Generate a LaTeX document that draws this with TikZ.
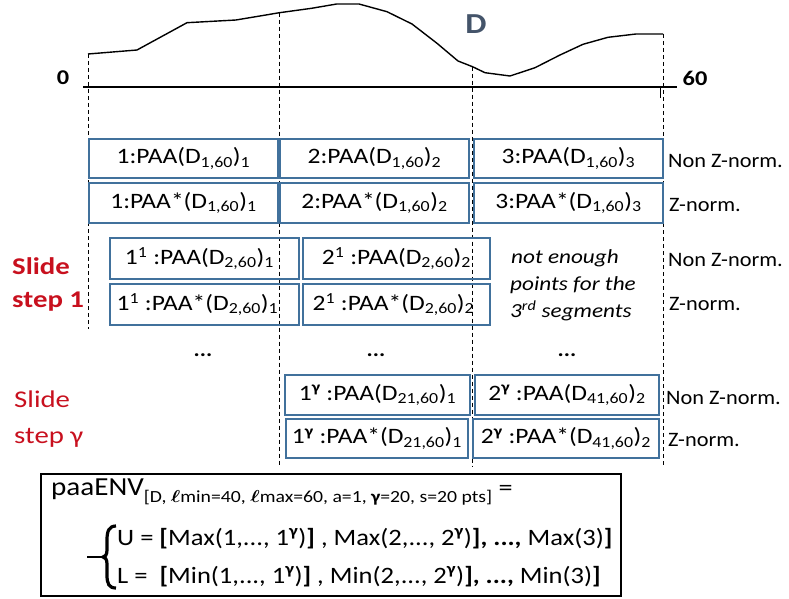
\documentclass[tikz,border=0pt]{standalone}
\usepackage{fontspec}
\setmainfont{Carlito}
\usepackage{amsmath}
\usepackage{graphicx}
\definecolor{boxblue}{RGB}{65,113,156}
\definecolor{slidered}{RGB}{200,16,30}
\definecolor{dslate}{RGB}{68,84,106}
\newcommand{\hs}[1]{\scalebox{1.16}[1]{#1}}
\newcommand{\hsl}[1]{\scalebox{1.09}[1]{#1}}
\newcommand{\hsw}[1]{\scalebox{1.2}[1]{#1}}
\newcommand{\hse}[1]{\scalebox{1.13}[1]{#1}}
\newcommand{\sg}{\textsuperscript{\textbf{γ}}}
\tikzset{
  paabox/.style={draw=boxblue, line width=1.6pt, inner sep=0pt, font=\fontsize{22}{26}\selectfont},
  normlab/.style={anchor=west, inner sep=0pt, font=\fontsize{20.5}{24}\selectfont},
  slidelab/.style={anchor=west, inner sep=0pt, text=slidered, font=\bfseries\fontsize{24}{27}\selectfont},
  slidelabg/.style={anchor=west, inner sep=0pt, text=slidered, font=\fontsize{24}{27}\selectfont},
  notelab/.style={anchor=west, inner sep=0pt, font=\itshape\fontsize{20}{24}\selectfont},
  segline/.style={line width=0.8pt, dash pattern=on 4pt off 3pt},
  dotlab/.style={inner sep=0pt, font=\bfseries\fontsize{20}{24}\selectfont},
  envline/.style={anchor=west, inner sep=0pt, font=\fontsize{23.5}{27}\selectfont}
}
\begin{document}
\begin{tikzpicture}[x=1pt,y=-1pt]
\useasboundingbox (0,0) rectangle (789,599);

% series D
\draw[line width=1.4pt, line join=round]
  (88,54) coordinate (c0) -- (137,50) -- (187,22.7) -- (236,20) -- (279.5,12.7) coordinate (c1)
  -- (311.6,8.3) -- (336.7,4) -- (359,4) -- (387,11.7) -- (412,24) -- (437,43.3) -- (458,61)
  -- (472.5,66.7) coordinate (c2) -- (485,72.7) -- (510,76) -- (535,67.7) -- (560,55) -- (583,44.3)
  -- (608,37.3) -- (636,34) -- (663,34) coordinate (c3);

% axis
\coordinate (ax0) at (83,87.3);
\coordinate (ax1) at (677,87.3);
\draw[line width=2.4pt] (ax0) -- (ax1);
\draw[line width=0.8pt] (660,87) -- (660,98);
\node[inner sep=0pt, font=\bfseries\fontsize{21}{24}\selectfont] (zero) at (63,78) {\hs{0}};
\node[inner sep=0pt, font=\bfseries\fontsize{21}{24}\selectfont] (sixty) at (695,78) {\hs{60}};
\node[inner sep=0pt, text=dslate, font=\bfseries\fontsize{29}{32}\selectfont] (dlab) at (476,24) {\hs{D}};

% segment lines
\coordinate (e0) at (88,329);
\coordinate (e1) at (279.5,467);
\coordinate (e2) at (472.5,467);
\coordinate (e3) at (663,467);
\draw[segline] (c0) -- (e0);
\draw[segline] (c1) -- (e1);
\draw[segline] (c2) -- (e2);
\draw[segline] (c3) -- (e3);

% full series rows
\node[paabox, minimum width=189pt, minimum height=39pt] (a1) at (183.5,158.5) {\hs{1:PAA(D\textsubscript{1,60})\textsubscript{1}}};
\node[paabox, minimum width=189pt, minimum height=39pt] (a2) at (374.5,158.5) {\hs{2:PAA(D\textsubscript{1,60})\textsubscript{2}}};
\node[paabox, minimum width=189pt, minimum height=39pt] (a3) at (568.5,158.5) {\hs{3:PAA(D\textsubscript{1,60})\textsubscript{3}}};
\node[paabox, minimum width=189pt, minimum height=40pt] (b1) at (183.5,203) {\hs{1:PAA*(D\textsubscript{1,60})\textsubscript{1}}};
\node[paabox, minimum width=189pt, minimum height=40pt] (b2) at (374.5,203) {\hs{2:PAA*(D\textsubscript{1,60})\textsubscript{2}}};
\node[paabox, minimum width=189pt, minimum height=40pt] (b3) at (568.5,203) {\hs{3:PAA*(D\textsubscript{1,60})\textsubscript{3}}};
\node[normlab] (la) at (668,161) {\hsl{Non Z-norm.}};
\node[normlab] (lb) at (669,205) {\hsl{Z-norm.}};

% slide step 1
\node[slidelab] (s1a) at (12,266) {\hsw{Slide}};
\node[slidelab] (s1b) at (12,302) {\hsw{step 1}};
\node[paabox, minimum width=189pt, minimum height=41pt] (c11) at (204.5,258.5) {\hs{1\textsuperscript{1} :PAA(D\textsubscript{2,60})\textsubscript{1}}\hspace*{10pt}};
\node[paabox, minimum width=187pt, minimum height=41pt] (c12) at (396.5,258.5) {\hs{2\textsuperscript{1} :PAA(D\textsubscript{2,60})\textsubscript{2}}};
\node[paabox, minimum width=189pt, minimum height=41pt] (d11) at (204.5,304.5) {\hs{1\textsuperscript{1} :PAA*(D\textsubscript{2,60})\textsubscript{1}}\hspace*{14pt}};
\node[paabox, minimum width=187pt, minimum height=41pt] (d12) at (396.5,304.5) {\hs{2\textsuperscript{1} :PAA*(D\textsubscript{2,60})\textsubscript{2}}\hspace*{6pt}};
\node[notelab] (n1) at (511,258) {\hs{not enough}};
\node[notelab] (n2) at (510,285) {\hs{points for the}};
\node[notelab] (n3) at (510,311) {\hs{3\textsuperscript{rd} segments}};
\node[normlab] (lc) at (668,260) {\hsl{Non Z-norm.}};
\node[normlab] (ld) at (669,304) {\hsl{Z-norm.}};

% dots
\node[dotlab] (dt1) at (203,355) {\hs{...}};
\node[dotlab] (dt2) at (376,355) {\hs{...}};
\node[dotlab] (dt3) at (567,355) {\hs{...}};

% slide step gamma
\node[slidelabg] (sga) at (14,399) {\hsw{Slide}};
\node[slidelabg] (sgb) at (14,438) {\hsw{step γ}};
\node[paabox, minimum width=185pt, minimum height=40pt] (g11) at (377.5,395) {\hs{1\sg\ :PAA(D\textsubscript{21,60})\textsubscript{1}}};
\node[paabox, minimum width=184pt, minimum height=40pt] (g12) at (567,395) {\hs{2\sg\ :PAA(D\textsubscript{41,60})\textsubscript{2}}};
\node[paabox, minimum width=182pt, minimum height=39pt] (h11) at (377,438.5) {\hs{1\sg\ :PAA*(D\textsubscript{21,60})\textsubscript{1}}};
\node[paabox, minimum width=186pt, minimum height=39pt] (h12) at (566,438.5) {\hs{2\sg\ :PAA*(D\textsubscript{41,60})\textsubscript{2}}};
\node[normlab] (le) at (666,398) {\hsl{Non Z-norm.}};
\node[normlab] (lf) at (668,440) {\hsl{Z-norm.}};

% envelope box
\node[draw, line width=1.5pt, minimum width=580pt, minimum height=122pt, inner sep=0pt] (env) at (331,535) {};
\node[anchor=west, inner sep=0pt, font=\fontsize{26}{30}\selectfont] (envt) at (51,492)
  {\scalebox{1.12}[1]{paaENV}\raisebox{-7pt}{\fontsize{17}{18}\selectfont\scalebox{1.16}[1]{[D, $\boldsymbol{\ell}$min=40, $\boldsymbol{\ell}$max=60, a=1, \textbf{γ}=20, s=20 pts]}}\fontsize{23.5}{28}\selectfont\scalebox{1.2}[1]{ =}};
\draw[line width=1.6pt] (87,557) -- (105,557);
\draw[line width=3.2pt] (116,526) .. controls (109,526) and (107,531) .. (107,540) -- (107,550)
  .. controls (107,555) and (105,557) .. (103,557)
  .. controls (105,557) and (107,559) .. (107,564) -- (107,575)
  .. controls (107,584) and (109,588) .. (116,588);
\node[envline] (uline) at (117,539) {\hse{U = \textbf{[}Max(1,..., 1\sg)\textbf{]} , Max(2,..., 2\sg)\textbf{], ...,} Max(3)\textbf{]}}};
\node[envline] (lline) at (117,577) {\hse{L = \ \textbf{[}Min(1,..., 1\sg)\textbf{]} , Min(2,..., 2\sg)\textbf{], ...,} Min(3)\textbf{]}}};
\end{tikzpicture}
\end{document}
